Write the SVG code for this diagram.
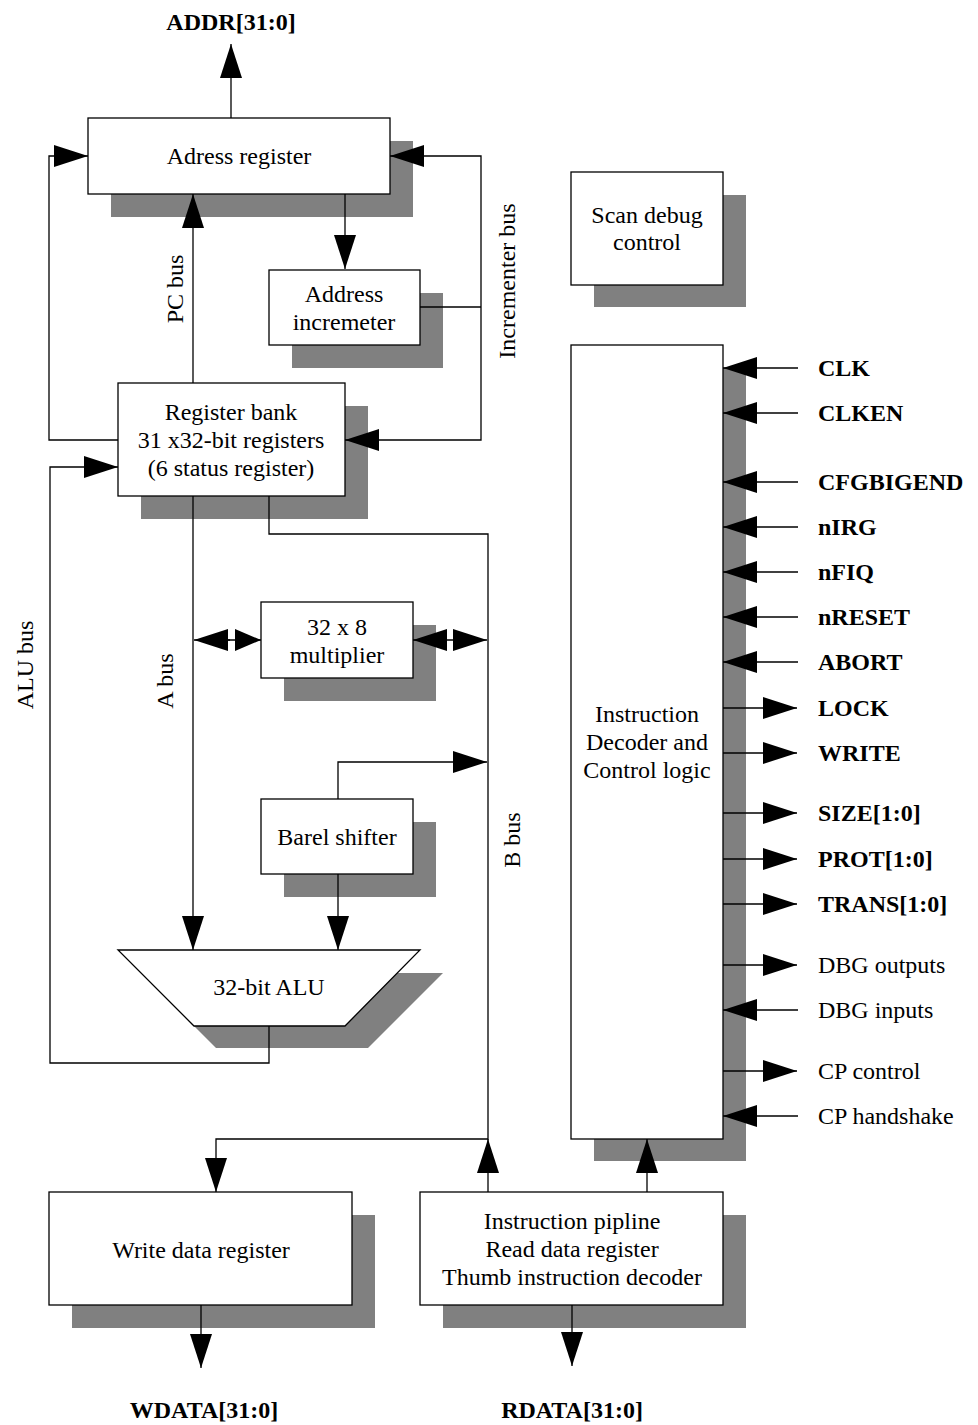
<svg xmlns="http://www.w3.org/2000/svg" width="978" height="1425" viewBox="0 0 978 1425">
<style>
text{font-family:"Liberation Serif","Times New Roman",serif;font-size:24px;fill:#000}
.c{text-anchor:middle}
.b{font-weight:bold}
.box{fill:#fff;stroke:#000;stroke-width:1.3}
.sh{fill:#808080;stroke:none}
.ln{fill:none;stroke:#000;stroke-width:1.3}
.a{marker-end:url(#ah)}
.a2{marker-end:url(#ah2)}
.aa{marker-start:url(#ah);marker-end:url(#ah)}
</style>
<defs>
<marker id="ah" markerUnits="userSpaceOnUse" markerWidth="34" markerHeight="22" refX="34" refY="11" orient="auto-start-reverse" viewBox="0 0 34 22">
<path d="M0,0 L34,11 L0,22 z" fill="#000"/>
</marker>
<marker id="ah2" markerUnits="userSpaceOnUse" markerWidth="26" markerHeight="22" refX="26" refY="11" orient="auto" viewBox="0 0 26 22">
<path d="M0,0 L26,11 L0,22 z" fill="#000"/>
</marker>
</defs>
<rect width="978" height="1425" fill="#fff"/>

<g id="address-register">
<rect class="sh" x="111" y="141" width="302" height="76"/>
<rect class="box" x="88" y="118" width="302" height="76"/>
<text class="c" x="239" y="164">Adress register</text>
</g>

<g id="address-incrementer">
<rect class="sh" x="292" y="293" width="151" height="75"/>
<rect class="box" x="269" y="270" width="151" height="75"/>
<text class="c" x="344" y="302">Address</text>
<text class="c" x="344" y="330">incremeter</text>
</g>

<g id="register-bank">
<rect class="sh" x="141" y="406" width="227" height="113"/>
<rect class="box" x="118" y="383" width="227" height="113"/>
<text class="c" x="231" y="420">Register bank</text>
<text class="c" x="231" y="448">31 x32-bit registers</text>
<text class="c" x="231" y="476">(6 status register)</text>
</g>

<g id="multiplier">
<rect class="sh" x="284" y="625" width="152" height="76"/>
<rect class="box" x="261" y="602" width="152" height="76"/>
<text class="c" x="337" y="635">32 x 8</text>
<text class="c" x="337" y="663">multiplier</text>
</g>

<g id="barrel-shifter">
<rect class="sh" x="284" y="822" width="152" height="75"/>
<rect class="box" x="261" y="799" width="152" height="75"/>
<text class="c" x="337" y="845">Barel shifter</text>
</g>

<g id="alu">
<polygon class="sh" points="141,973 443,973 368,1048 216,1048"/>
<polygon class="box" points="118,950 420,950 345,1026 194,1026"/>
<text class="c" x="269" y="995">32-bit ALU</text>
</g>

<g id="scan-debug-control">
<rect class="sh" x="594" y="195" width="152" height="112"/>
<rect class="box" x="571" y="172" width="152" height="113"/>
<text class="c" x="647" y="223">Scan debug</text>
<text class="c" x="647" y="250">control</text>
</g>

<g id="instruction-decoder">
<rect class="sh" x="594" y="368" width="152" height="793"/>
<rect class="box" x="571" y="345" width="152" height="794"/>
<text class="c" x="647" y="722">Instruction</text>
<text class="c" x="647" y="750">Decoder and</text>
<text class="c" x="647" y="778">Control logic</text>
</g>

<g id="write-data-register">
<rect class="sh" x="72" y="1215" width="303" height="113"/>
<rect class="box" x="49" y="1192" width="303" height="113"/>
<text class="c" x="201" y="1258">Write data register</text>
</g>

<g id="instruction-pipeline">
<rect class="sh" x="443" y="1215" width="303" height="113"/>
<rect class="box" x="420" y="1192" width="303" height="113"/>
<text class="c" x="572" y="1229">Instruction pipline</text>
<text class="c" x="572" y="1257">Read data register</text>
<text class="c" x="572" y="1285">Thumb instruction decoder</text>
</g>

<g id="connectors">
<path class="ln a" d="M231,118 V44"/>
<path class="ln a" d="M118,440 H49 V156 H88"/>
<path class="ln" d="M420,307 H481"/>
<path class="ln a" d="M481,307 V156 H390"/>
<path class="ln a" d="M481,307 V440 H345"/>
<path class="ln a" d="M345,194 V269"/>
<path class="ln a" d="M193,383 V194"/>
<path class="ln a" d="M269,1026 V1063 H50 V467 H118"/>
<path class="ln a" d="M193,496 V950"/>
<path class="ln a" d="M269,496 V534 H488 V1139 H216 V1192"/>
<path class="ln a" d="M230,640 H194"/>
<path class="ln a2" d="M228,640 H261"/>
<path class="ln aa" d="M413,640 H487"/>
<path class="ln a" d="M338,799 V762 H487"/>
<path class="ln a" d="M338,874 V950"/>
<path class="ln a" d="M488,1192 V1139"/>
<path class="ln a" d="M647,1192 V1139"/>
<path class="ln a" d="M201,1305 V1368"/>
<path class="ln a" d="M572,1305 V1366"/>
<path class="ln a" d="M798,368 H723"/>
<path class="ln a" d="M798,413 H723"/>
<path class="ln a" d="M798,482 H723"/>
<path class="ln a" d="M798,527 H723"/>
<path class="ln a" d="M798,572 H723"/>
<path class="ln a" d="M798,617 H723"/>
<path class="ln a" d="M798,662 H723"/>
<path class="ln a" d="M723,708 H797"/>
<path class="ln a" d="M723,753 H797"/>
<path class="ln a" d="M723,813 H797"/>
<path class="ln a" d="M723,859 H797"/>
<path class="ln a" d="M723,904 H797"/>
<path class="ln a" d="M723,965 H797"/>
<path class="ln a" d="M798,1010 H723"/>
<path class="ln a" d="M723,1071 H797"/>
<path class="ln a" d="M798,1116 H723"/>
</g>

<g id="bus-labels">
<text class="c" transform="translate(515,281) rotate(-90)">Incrementer bus</text>
<text class="c" transform="translate(183,289) rotate(-90)">PC bus</text>
<text class="c" transform="translate(33,665) rotate(-90)">ALU bus</text>
<text class="c" transform="translate(173,681) rotate(-90)">A bus</text>
<text class="c" transform="translate(520,840) rotate(-90)">B bus</text>
</g>

<g id="signal-labels">
<text class="c b" x="231" y="30">ADDR[31:0]</text>
<text class="c b" x="204" y="1418">WDATA[31:0]</text>
<text class="c b" x="572" y="1418">RDATA[31:0]</text>
<text class="b" x="818" y="376">CLK</text>
<text class="b" x="818" y="421">CLKEN</text>
<text class="b" x="818" y="490" font-size="25">CFGBIGEND</text>
<text class="b" x="818" y="535">nIRG</text>
<text class="b" x="818" y="580">nFIQ</text>
<text class="b" x="818" y="625">nRESET</text>
<text class="b" x="818" y="670">ABORT</text>
<text class="b" x="818" y="716">LOCK</text>
<text class="b" x="818" y="761">WRITE</text>
<text class="b" x="818" y="821">SIZE[1:0]</text>
<text class="b" x="818" y="867">PROT[1:0]</text>
<text class="b" x="818" y="912">TRANS[1:0]</text>
<text x="818" y="973">DBG outputs</text>
<text x="818" y="1018">DBG inputs</text>
<text x="818" y="1079">CP control</text>
<text x="818" y="1124">CP handshake</text>
</g>
</svg>
